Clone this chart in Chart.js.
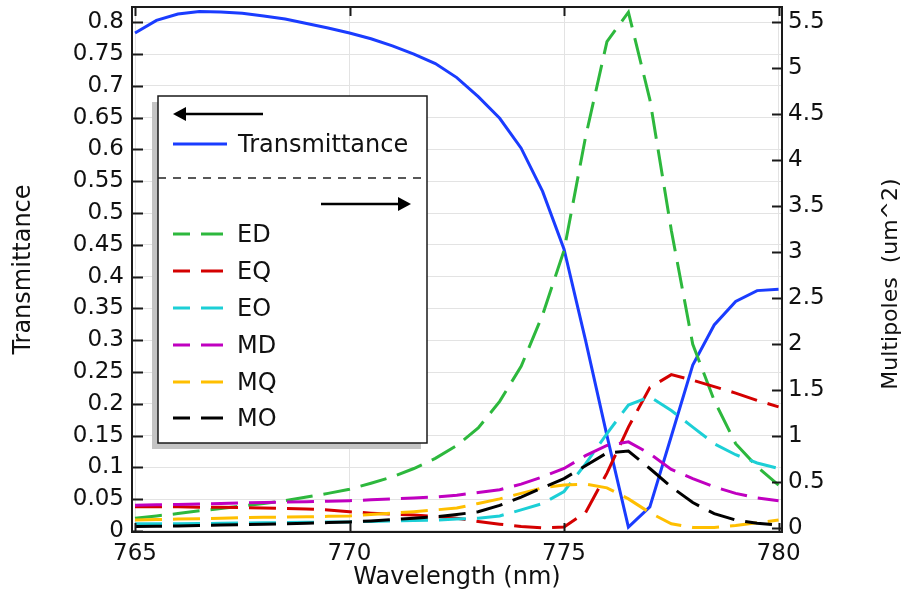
<!DOCTYPE html>
<html>
<head>
<meta charset="utf-8">
<script src="https://cdn.jsdelivr.net/npm/chart.js@4.4.0/dist/chart.umd.min.js"></script>
<style>
  html, body { margin: 0; padding: 0; background: #fff; }
</style>
</head>
<body>
<canvas id="grafico" width="906" height="594"></canvas>
<script>
  // Datos (paso 0.5 nm)
  const longitudOnda = [765, 765.5, 766, 766.5, 767, 767.5, 768, 768.5, 769, 769.5, 770, 770.5, 771, 771.5, 772, 772.5,
                        773, 773.5, 774, 774.5, 775, 775.5, 776, 776.5, 777, 777.5, 778, 778.5, 779, 779.5, 780];

  // eje izquierdo
  const transmitancia = [0.783, 0.803, 0.813, 0.817, 0.816, 0.814, 0.810, 0.805, 0.798, 0.791, 0.783, 0.774, 0.763, 0.750, 0.735, 0.713,
                         0.683, 0.649, 0.602, 0.534, 0.443, 0.300, 0.150, 0.006, 0.038, 0.149, 0.261, 0.324, 0.361, 0.378, 0.380];

  // eje derecho (um^2)
  const ED = [0.11, 0.135, 0.16, 0.19, 0.215, 0.245, 0.27, 0.30, 0.34, 0.38, 0.425, 0.49, 0.56, 0.65, 0.76, 0.90,
              1.09, 1.38, 1.76, 2.32, 3.02, 4.25, 5.29, 5.61, 4.66, 3.24, 2.0, 1.39, 0.92, 0.67, 0.47];
  const EQ = [0.235, 0.235, 0.235, 0.23, 0.228, 0.225, 0.22, 0.215, 0.21, 0.2, 0.18, 0.165, 0.155, 0.145, 0.13, 0.11,
              0.075, 0.045, 0.02, 0.005, 0.015, 0.17, 0.6, 1.1, 1.53, 1.67, 1.61, 1.54, 1.47, 1.39, 1.32];
  const EO = [0.05, 0.05, 0.05, 0.052, 0.055, 0.057, 0.06, 0.062, 0.065, 0.068, 0.07, 0.075, 0.08, 0.085, 0.09, 0.10,
              0.11, 0.135, 0.2, 0.27, 0.40, 0.70, 1.03, 1.34, 1.43, 1.28, 1.10, 0.92, 0.80, 0.71, 0.65];
  const MD = [0.25, 0.255, 0.26, 0.265, 0.27, 0.275, 0.28, 0.285, 0.29, 0.295, 0.30, 0.31, 0.32, 0.33, 0.34, 0.36,
              0.39, 0.42, 0.48, 0.56, 0.65, 0.79, 0.90, 0.94, 0.81, 0.64, 0.54, 0.45, 0.38, 0.33, 0.30];
  const MQ = [0.09, 0.095, 0.10, 0.105, 0.11, 0.115, 0.12, 0.122, 0.125, 0.13, 0.135, 0.15, 0.165, 0.18, 0.20, 0.22,
              0.27, 0.32, 0.38, 0.44, 0.47, 0.48, 0.44, 0.32, 0.17, 0.05, 0.01, 0.01, 0.03, 0.06, 0.09];
  const MO = [0.02, 0.022, 0.025, 0.03, 0.035, 0.04, 0.045, 0.05, 0.055, 0.062, 0.07, 0.08, 0.095, 0.11, 0.125, 0.15,
              0.18, 0.25, 0.34, 0.44, 0.54, 0.68, 0.82, 0.84, 0.65, 0.45, 0.28, 0.16, 0.09, 0.055, 0.035];

  // Marcas de los ejes
  const ticksX = [765, 770, 775, 780];
  const ticksIzq = [0, 0.05, 0.1, 0.15, 0.2, 0.25, 0.3, 0.35, 0.4, 0.45, 0.5, 0.55, 0.6, 0.65, 0.7, 0.75, 0.8];
  const ticksDer = [0, 0.5, 1, 1.5, 2, 2.5, 3, 3.5, 4, 4.5, 5, 5.5];

  const multipolos = [
      { nombre: 'ED', datos: ED, color: '#2db83d' },
      { nombre: 'EQ', datos: EQ, color: '#d40000' },
      { nombre: 'EO', datos: EO, color: '#1ccfd6' },
      { nombre: 'MD', datos: MD, color: '#c000c0' },
      { nombre: 'MQ', datos: MQ, color: '#ffbf00' },
      { nombre: 'MO', datos: MO, color: '#000000' }
  ];

  const fuente = 'DejaVu Sans';
  const puntos = arr => arr.map((v, i) => ({ x: longitudOnda[i], y: v }));

  const datasets = [{
      label: 'Transmittance',
      data: puntos(transmitancia),
      borderColor: '#1a3cff',
      borderWidth: 3,
      yAxisID: 'y',
      order: 7
  }];
  multipolos.forEach((m, i) => {
      datasets.push({
          label: m.nombre,
          data: puntos(m.datos),
          borderColor: m.color,
          borderWidth: 3,
          borderDash: [27, 11],
          yAxisID: 'y2',
          order: 6 - i
      });
  });

  // Marco, marcas hacia dentro, titulo derecho y leyenda estilo COMSOL
  const marcoYLeyenda = {
      id: 'marcoYLeyenda',
      afterDraw(chart) {
          const c = chart.ctx;
          const a = chart.chartArea;
          const sx = chart.scales.x, sy = chart.scales.y, sy2 = chart.scales.y2;
          c.save();
          c.strokeStyle = '#1a1a1a';
          c.lineWidth = 2;
          c.beginPath();
          ticksIzq.forEach(v => {
              const y = Math.round(sy.getPixelForValue(v)) + 0.5;
              c.moveTo(a.left, y); c.lineTo(a.left + 11, y);
          });
          ticksDer.forEach(v => {
              const y = Math.round(sy2.getPixelForValue(v)) + 0.5;
              c.moveTo(a.right, y); c.lineTo(a.right - 10, y);
          });
          ticksX.forEach(v => {
              const x = Math.round(sx.getPixelForValue(v)) + 0.5;
              c.moveTo(x, a.bottom); c.lineTo(x, a.bottom - 9);
              c.moveTo(x, a.top); c.lineTo(x, a.top + 9);
          });
          c.stroke();
          c.strokeRect(a.left, a.top, a.right - a.left, a.bottom - a.top);

          // titulo del eje derecho (leido de abajo hacia arriba)
          c.save();
          c.translate(891, 284);
          c.rotate(-Math.PI / 2);
          c.font = '22px "' + fuente + '"';
          c.fillStyle = '#111';
          c.textAlign = 'center';
          c.textBaseline = 'middle';
          c.fillText('Multipoles  (um^2)', 0, 0);
          c.restore();

          // leyenda
          const L = 158, T = 96, R = 427, B = 443;
          c.fillStyle = '#c4c4c4';
          c.fillRect(L - 6, T + 6, R - L, B - T);
          c.fillStyle = '#ffffff';
          c.fillRect(L, T, R - L, B - T);
          c.strokeStyle = '#1a1a1a';
          c.lineWidth = 1.5;
          c.strokeRect(L, T, R - L, B - T);

          // flecha izquierda
          c.fillStyle = '#000';
          c.strokeStyle = '#000';
          c.lineWidth = 2.5;
          c.beginPath(); c.moveTo(182, 114); c.lineTo(263, 114); c.stroke();
          c.beginPath(); c.moveTo(173, 114); c.lineTo(186, 107); c.lineTo(186, 121); c.closePath(); c.fill();

          c.font = '24px "' + fuente + '"';
          c.textBaseline = 'middle';
          c.strokeStyle = '#1a3cff';
          c.lineWidth = 3;
          c.beginPath(); c.moveTo(173, 144); c.lineTo(227, 144); c.stroke();
          c.fillStyle = '#111';
          c.fillText('Transmittance', 238, 146);

          // separador
          c.strokeStyle = '#222';
          c.lineWidth = 1.5;
          c.setLineDash([8, 7]);
          c.beginPath(); c.moveTo(L, 178); c.lineTo(R, 178); c.stroke();
          c.setLineDash([]);

          // flecha derecha
          c.strokeStyle = '#000';
          c.fillStyle = '#000';
          c.lineWidth = 2.5;
          c.beginPath(); c.moveTo(321, 204); c.lineTo(402, 204); c.stroke();
          c.beginPath(); c.moveTo(411, 204); c.lineTo(398, 197); c.lineTo(398, 211); c.closePath(); c.fill();

          const filas = [234, 271, 308, 345, 382, 418];
          multipolos.forEach((m, i) => {
              const y = filas[i];
              c.strokeStyle = m.color;
              c.lineWidth = 3;
              c.setLineDash([22, 11]);
              c.lineDashOffset = 5;
              c.beginPath(); c.moveTo(173, y); c.lineTo(224, y); c.stroke();
              c.setLineDash([]);
              c.lineDashOffset = 0;
              c.fillStyle = '#111';
              c.fillText(m.nombre, 237, y + 2);
          });
          c.restore();
      }
  };

  const fijarTicks = lista => scale => { scale.ticks = lista.map(v => ({ value: v })); };
  const etiqueta = v => String(v);

  let ctx = document.getElementById('grafico').getContext('2d');
  let grafico = new Chart(ctx, {
      type: 'line',
      data: { datasets: datasets },
      options: {
          responsive: false,
          animation: false,
          layout: { padding: { top: 7, right: 0, left: 0, bottom: 0 } },
          elements: { point: { radius: 0 }, line: { tension: 0, fill: false } },
          plugins: { legend: { display: false }, tooltip: { enabled: false } },
          scales: {
              x: {
                  type: 'linear',
                  min: 764.93,
                  max: 780.08,
                  afterBuildTicks: fijarTicks(ticksX),
                  afterFit: s => { s.height = 62; s.paddingLeft = 0; s.paddingRight = 0; },
                  border: { display: false },
                  grid: { color: '#e3e3e3', drawTicks: false },
                  ticks: { padding: 8, color: '#111', font: { family: fuente, size: 23 }, maxRotation: 0, callback: etiqueta },
                  title: { display: true, text: 'Wavelength (nm)', color: '#111',
                           font: { family: fuente, size: 24 }, padding: { top: 0, bottom: 2 } }
              },
              y: {
                  position: 'left',
                  min: -0.0016,
                  max: 0.824,
                  afterBuildTicks: fijarTicks(ticksIzq),
                  afterFit: s => { s.width = 132; s.paddingTop = 0; s.paddingBottom = 0; },
                  border: { display: false },
                  grid: { color: '#e3e3e3', drawTicks: false },
                  ticks: { padding: 8, color: '#111', font: { family: fuente, size: 23 }, callback: etiqueta },
                  title: { display: true, text: 'Transmittance', color: '#111',
                           font: { family: fuente, size: 24 }, padding: { top: 9, bottom: 0 } }
              },
              y2: {
                  position: 'right',
                  min: -0.04,
                  max: 5.666,
                  afterBuildTicks: fijarTicks(ticksDer),
                  afterFit: s => { s.width = 124; s.paddingTop = 0; s.paddingBottom = 0; },
                  border: { display: false },
                  grid: { drawOnChartArea: false, drawTicks: false },
                  ticks: { padding: 6, color: '#111', font: { family: fuente, size: 23 }, callback: etiqueta }
              }
          }
      },
      plugins: [marcoYLeyenda]
  });
</script>
</body>
</html>
